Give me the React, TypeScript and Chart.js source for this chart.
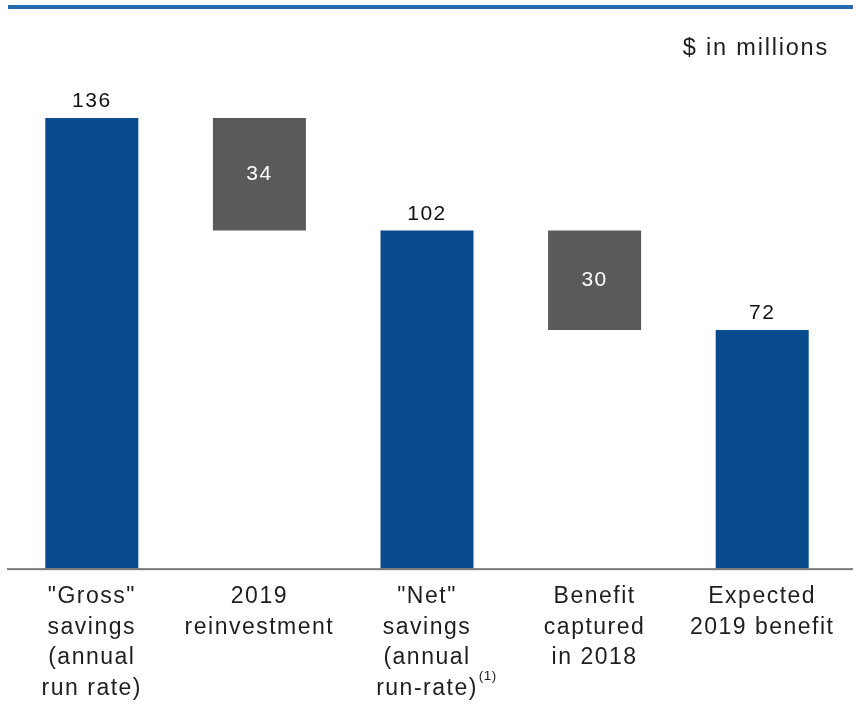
import React, { useEffect, useRef } from "react";
import { Chart, registerables } from "chart.js";

Chart.register(...registerables);

const categories: string[][] = [
  ['"Gross"', "savings", "(annual", "run rate)"],
  ["2019", "reinvestment"],
  ['"Net"', "savings", "(annual", "run-rate)"],
  ["Benefit", "captured", "in 2018"],
  ["Expected", "2019 benefit"],
];
const barStart = [0, 102, 0, 72, 0];
const barEnd = [136, 136, 102, 102, 72];
const valueLabels = ["136", "34", "102", "30", "72"];
const barKinds = ["total", "change", "total", "change", "total"];
const unitLabel = "$ in millions";
const footnoteMark = "(1)";
const footnoteIndex = 2;

const BLUE = "#0a4b8e";
const GRAY = "#5a5a5a";
const FONT = "'Liberation Sans', Arial, Helvetica, sans-serif";
const TICK_SIZE = 23;
const TICK_LH = 1.33;
const TICK_PAD = 13;

export default function App() {
  const ref = useRef<HTMLCanvasElement | null>(null);

  useEffect(() => {
    if (!ref.current) return;
    const decor = {
      id: "decor",
      beforeDraw(chart: any) {
        const ctx = chart.ctx;
        ctx.letterSpacing = "1.5px";
        ctx.save();
        ctx.fillStyle = "#ffffff";
        ctx.fillRect(0, 0, chart.width, chart.height);
        // top rule
        ctx.fillStyle = "#2468ad";
        ctx.fillRect(8, 5, chart.width - 8, 4);
        // unit label
        ctx.fillStyle = "#1e1e1e";
        ctx.font = `23.5px ${FONT}`;
        ctx.textAlign = "right";
        ctx.textBaseline = "alphabetic";
        ctx.letterSpacing = "1.8px";
        ctx.fillText(unitLabel, 829, 55);
        ctx.restore();
      },
      afterDatasetsDraw(chart: any) {
        const ctx = chart.ctx;
        const meta = chart.getDatasetMeta(0);
        const yScale = chart.scales.y;
        const xScale = chart.scales.x;
        ctx.save();
        ctx.letterSpacing = "1.5px";
        // baseline
        const y0 = yScale.getPixelForValue(0);
        ctx.fillStyle = "#7a7a7a";
        ctx.fillRect(7, y0 - 0.5, chart.width - 7, 2);
        ctx.font = `21px ${FONT}`;
        ctx.textAlign = "center";
        meta.data.forEach((el: any, i: number) => {
          if (barKinds[i] === "total") {
            ctx.fillStyle = "#111111";
            ctx.textBaseline = "alphabetic";
            ctx.fillText(valueLabels[i], el.x, Math.min(el.y, el.base) - 11);
          } else {
            ctx.fillStyle = "#ffffff";
            ctx.textBaseline = "middle";
            ctx.fillText(valueLabels[i], el.x, (el.y + el.base) / 2);
          }
        });
        // footnote superscript on label
        const lines = categories[footnoteIndex];
        const last = lines[lines.length - 1];
        const lh = TICK_SIZE * TICK_LH;
        ctx.font = `${TICK_SIZE}px ${FONT}`;
        const w = ctx.measureText(last).width;
        const cx = xScale.getPixelForTick(footnoteIndex);
        const lineMid = xScale.top + TICK_PAD + lh * (lines.length - 1) + lh / 2;
        ctx.font = `13.5px ${FONT}`;
        ctx.letterSpacing = "0.5px";
        ctx.fillStyle = "#1e1e1e";
        ctx.textAlign = "left";
        ctx.textBaseline = "alphabetic";
        ctx.fillText(footnoteMark, cx + w / 2 + 1, lineMid - 9);
        ctx.restore();
      },
    };

    const chart = new Chart(ref.current, {
      type: "bar",
      data: {
        labels: categories,
        datasets: [
          {
            data: barStart.map((s, i) => [s, barEnd[i]]),
            backgroundColor: barKinds.map((k) => (k === "total" ? BLUE : GRAY)),
            borderWidth: 0,
            barPercentage: 0.555,
            categoryPercentage: 1,
          },
        ],
      },
      options: {
        animation: false,
        responsive: false,
        maintainAspectRatio: false,
        layout: { padding: { top: 71.5, left: 8, right: 7, bottom: -13 } },
        plugins: {
          legend: { display: false },
          tooltip: { enabled: false },
          title: { display: false },
        },
        scales: {
          x: {
            grid: { display: false, drawTicks: false },
            border: { display: false },
            ticks: {
              padding: TICK_PAD,
              color: "#1e1e1e",
              maxRotation: 0,
              autoSkip: false,
              font: { family: FONT, size: TICK_SIZE, lineHeight: TICK_LH },
            },
          },
          y: {
            display: false,
            min: 0,
            max: 150,
          },
        },
      },
      plugins: [decor],
    });
    return () => chart.destroy();
  }, []);

  return (
    <div style={{ position: "absolute", left: 0, top: 0, width: 853, height: 704, background: "#fff" }}>
      <canvas ref={ref} width={853} height={704} style={{ display: "block", width: 853, height: 704 }} />
    </div>
  );
}
